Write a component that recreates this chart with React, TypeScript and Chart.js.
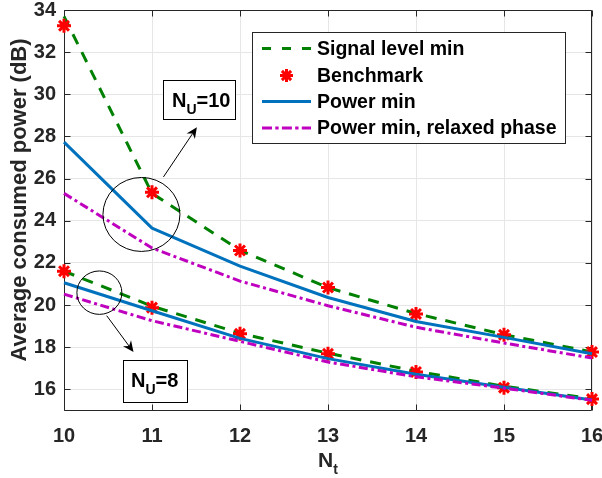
import React, { useEffect, useRef } from 'react';
import { Chart, registerables } from 'chart.js';

Chart.register(...registerables);

// ---------- data ----------
const NT = [10, 11, 12, 13, 14, 15, 16];

// N_U = 10
const SIGNAL_10 = [33.7, 25.3, 22.6, 20.83, 19.6, 18.6, 17.78];
const BENCH_10 = [33.25, 25.35, 22.59, 20.83, 19.58, 18.59, 17.77];
const POWER_10 = [27.73, 23.65, 21.85, 20.36, 19.22, 18.47, 17.69];
const RELAX_10 = [25.3, 22.71, 21.14, 19.97, 18.95, 18.2, 17.49];

// N_U = 8
const SIGNAL_8 = [21.61, 19.95, 18.66, 17.72, 16.86, 16.15, 15.56];
const BENCH_8 = [21.61, 19.88, 18.64, 17.69, 16.83, 16.08, 15.54];
const POWER_8 = [21.06, 19.73, 18.42, 17.46, 16.72, 16.1, 15.5];
const RELAX_8 = [20.52, 19.26, 18.28, 17.3, 16.6, 16.06, 15.48];

const X_TICKS = [10, 11, 12, 13, 14, 15, 16];
const Y_TICKS = [16, 18, 20, 22, 24, 26, 28, 30, 32, 34];

const LEGEND_LABELS = ['Signal level min', 'Benchmark', 'Power min', 'Power min, relaxed phase'];
const Y_TITLE = 'Average consumed power (dB)';

// ---------- styles ----------
const FONT = '"Liberation Sans", Arial, Helvetica, sans-serif';
const GREEN = '#008000';
const RED = '#ff0000';
const BLUE = '#0072bd';
const MAG = '#bf00bf';
const AXIS = '#262626';
const GRID = '#e6e6e6';
const GREEN_DASH = [11, 9];
const MAG_DASH = [9, 3.5, 3, 3.5];

const pts = (ys: number[]) => NT.map((x, i) => ({ x, y: ys[i] }));

function drawArrow(ctx: CanvasRenderingContext2D, x0: number, y0: number, x1: number, y1: number) {
  const ang = Math.atan2(y1 - y0, x1 - x0);
  const len = 11;
  const half = 5;
  const back = 7.5;
  ctx.beginPath();
  ctx.moveTo(x0, y0);
  ctx.lineTo(x1 - Math.cos(ang) * back, y1 - Math.sin(ang) * back);
  ctx.stroke();
  const bx = x1 - Math.cos(ang) * len;
  const by = y1 - Math.sin(ang) * len;
  const nx = -Math.sin(ang);
  const ny = Math.cos(ang);
  ctx.beginPath();
  ctx.moveTo(x1, y1);
  ctx.lineTo(bx + nx * half, by + ny * half);
  ctx.lineTo(x1 - Math.cos(ang) * back, y1 - Math.sin(ang) * back);
  ctx.lineTo(bx - nx * half, by - ny * half);
  ctx.closePath();
  ctx.fill();
}

function drawNuBox(ctx: CanvasRenderingContext2D, x: number, y: number, w: number, h: number, tx: number, base: number, num: string) {
  ctx.fillStyle = '#ffffff';
  ctx.fillRect(x, y, w, h);
  ctx.strokeStyle = '#000';
  ctx.lineWidth = 1;
  ctx.strokeRect(x + 0.5, y + 0.5, w, h);
  ctx.fillStyle = '#000';
  ctx.textAlign = 'left';
  ctx.textBaseline = 'alphabetic';
  ctx.font = `bold 20px ${FONT}`;
  ctx.fillText('N', tx, base);
  const wN = ctx.measureText('N').width;
  ctx.font = `bold 14px ${FONT}`;
  ctx.fillText('U', tx + wN, base + 7);
  const wU = ctx.measureText('U').width;
  ctx.font = `bold 20px ${FONT}`;
  ctx.fillText('=' + num, tx + wN + wU, base);
}

const decorPlugin = {
  id: 'decor',
  beforeDatasetsDraw(chart: any) {
    const { ctx, chartArea: a, scales } = chart;
    const L = Math.round(a.left) + 0.5;
    const R = Math.round(a.right) - 0.5;
    const T = Math.round(a.top) + 0.5;
    const B = Math.round(a.bottom) - 0.5;
    ctx.save();
    ctx.strokeStyle = AXIS;
    ctx.lineWidth = 1;
    ctx.beginPath();
    ctx.rect(L, T, R - L, B - T);
    ctx.stroke();
    ctx.beginPath();
    for (const v of X_TICKS) {
      const px = Math.round(scales.x.getPixelForValue(v)) + 0.5;
      ctx.moveTo(px, B);
      ctx.lineTo(px, B - 6);
      ctx.moveTo(px, T);
      ctx.lineTo(px, T + 6);
    }
    for (const v of Y_TICKS) {
      const py = Math.round(scales.y.getPixelForValue(v)) + 0.5;
      ctx.moveTo(L, py);
      ctx.lineTo(L + 6, py);
      ctx.moveTo(R, py);
      ctx.lineTo(R - 6, py);
    }
    ctx.stroke();
    ctx.restore();
  },
  afterDraw(chart: any) {
    const { ctx, scales } = chart;
    const sx = (v: number) => scales.x.getPixelForValue(v);
    const sy = (v: number) => scales.y.getPixelForValue(v);
    ctx.save();

    // axis titles
    ctx.fillStyle = AXIS;
    ctx.font = `bold 22px ${FONT}`;
    ctx.textAlign = 'center';
    ctx.textBaseline = 'middle';
    ctx.save();
    ctx.translate(20, 200);
    ctx.rotate(-Math.PI / 2);
    ctx.fillText(Y_TITLE, 0, 0);
    ctx.restore();

    const cx = (chart.chartArea.left + chart.chartArea.right) / 2;
    ctx.textAlign = 'left';
    ctx.textBaseline = 'alphabetic';
    ctx.font = `bold 21px ${FONT}`;
    const wN = ctx.measureText('N').width;
    ctx.font = `bold 14px ${FONT}`;
    const wt = ctx.measureText('t').width;
    const x0 = cx - (wN + wt) / 2;
    ctx.font = `bold 21px ${FONT}`;
    ctx.fillText('N', x0, 467);
    ctx.font = `bold 14px ${FONT}`;
    ctx.fillText('t', x0 + wN, 474);

    // legend
    const lx = 252, ly = 32, lw = 313, lh = 111;
    ctx.fillStyle = '#ffffff';
    ctx.fillRect(lx, ly, lw, lh);
    ctx.strokeStyle = AXIS;
    ctx.lineWidth = 1;
    ctx.strokeRect(lx + 0.5, ly + 0.5, lw, lh);
    const rows = [48.5, 75.5, 101.5, 128];
    const s0 = 262, s1 = 311, tx = 317;
    ctx.lineWidth = 3;
    ctx.lineCap = 'butt';
    // signal
    ctx.strokeStyle = GREEN;
    ctx.setLineDash([9, 11]);
    ctx.beginPath(); ctx.moveTo(s0, rows[0]); ctx.lineTo(s1, rows[0]); ctx.stroke();
    // benchmark star
    ctx.setLineDash([]);
    ctx.strokeStyle = RED;
    const mx = (s0 + s1) / 2, my = rows[1], r = 6.5;
    ctx.beginPath();
    for (let k = 0; k < 4; k++) {
      const ang = (k * Math.PI) / 4;
      ctx.moveTo(mx - Math.cos(ang) * r, my - Math.sin(ang) * r);
      ctx.lineTo(mx + Math.cos(ang) * r, my + Math.sin(ang) * r);
    }
    ctx.stroke();
    // power
    ctx.strokeStyle = BLUE;
    ctx.beginPath(); ctx.moveTo(s0, rows[2]); ctx.lineTo(s1, rows[2]); ctx.stroke();
    // relaxed
    ctx.strokeStyle = MAG;
    ctx.setLineDash([10, 3.3, 3.3, 3.3]);
    ctx.beginPath(); ctx.moveTo(s0, rows[3]); ctx.lineTo(s1, rows[3]); ctx.stroke();
    ctx.setLineDash([]);
    ctx.fillStyle = '#000';
    ctx.font = `bold 19.5px ${FONT}`;
    ctx.textAlign = 'left';
    ctx.textBaseline = 'middle';
    LEGEND_LABELS.forEach((t, i) => ctx.fillText(t, tx, rows[i] + 1));

    // annotations
    ctx.strokeStyle = '#000';
    ctx.fillStyle = '#000';
    ctx.lineWidth = 1;
    // N_U = 10 ellipse
    ctx.beginPath();
    ctx.ellipse(sx(10.88), sy(24.3), 38.5, 37, 0, 0, Math.PI * 2);
    ctx.stroke();
    drawArrow(ctx, sx(11.13), sy(26.08), sx(11.51), sy(28.44));
    // N_U = 8 ellipse
    ctx.beginPath();
    ctx.ellipse(sx(10.402), sy(20.59), 22.5, 21.7, 0, 0, Math.PI * 2);
    ctx.stroke();
    drawArrow(ctx, sx(10.485), sy(19.5), sx(10.79), sy(17.77));

    drawNuBox(ctx, 163, 80, 72, 39, 172, 107, '10');
    drawNuBox(ctx, 123, 360, 64, 42, 131, 387, '8');

    ctx.restore();
  },
};

export default function App() {
  const ref = useRef<HTMLCanvasElement | null>(null);

  useEffect(() => {
    if (!ref.current) return;
    const lineBase = {
      fill: false,
      tension: 0,
      borderWidth: 3,
      pointRadius: 0,
      borderCapStyle: 'butt' as const,
      borderJoinStyle: 'round' as const,
      clip: false as any,
    };
    const signal = (d: number[]) => ({ ...lineBase, data: pts(d), borderColor: GREEN, borderDash: GREEN_DASH, order: 3 });
    const bench = (d: number[]) => ({
      data: pts(d),
      showLine: false,
      pointStyle: 'star' as const,
      pointRadius: 7,
      pointBorderWidth: 3,
      pointBorderColor: RED,
      pointBackgroundColor: RED,
      borderColor: RED,
      backgroundColor: RED,
      clip: false as any,
      order: 2,
    });
    const power = (d: number[]) => ({ ...lineBase, data: pts(d), borderColor: BLUE, order: 1 });
    const relax = (d: number[]) => ({ ...lineBase, data: pts(d), borderColor: MAG, borderDash: MAG_DASH, order: 0 });

    const chart = new Chart(ref.current, {
      type: 'line',
      data: {
        datasets: [
          { label: LEGEND_LABELS[0], ...signal(SIGNAL_10) },
          { label: LEGEND_LABELS[0], ...signal(SIGNAL_8) },
          { label: LEGEND_LABELS[1], ...bench(BENCH_10) },
          { label: LEGEND_LABELS[1], ...bench(BENCH_8) },
          { label: LEGEND_LABELS[2], ...power(POWER_10) },
          { label: LEGEND_LABELS[2], ...power(POWER_8) },
          { label: LEGEND_LABELS[3], ...relax(RELAX_10) },
          { label: LEGEND_LABELS[3], ...relax(RELAX_8) },
        ] as any,
      },
      options: {
        animation: false,
        responsive: false,
        maintainAspectRatio: false,
        events: [],
        layout: { padding: { top: 7, right: 10, left: 0, bottom: 0 } },
        plugins: { legend: { display: false }, tooltip: { enabled: false } },
        scales: {
          x: {
            type: 'linear',
            min: 10,
            max: 16,
            afterBuildTicks: (s: any) => { s.ticks = X_TICKS.map((v) => ({ value: v })); },
            afterFit: (s: any) => { s.height = 67.5; s.paddingLeft = 0; s.paddingRight = 0; },
            ticks: { color: AXIS, font: { family: FONT, size: 20, weight: 'bold' }, padding: 14, maxRotation: 0, autoSkip: false },
            grid: { color: GRID, lineWidth: 1, drawTicks: false },
            border: { display: false },
          },
          y: {
            type: 'linear',
            min: 15,
            max: 34,
            afterBuildTicks: (s: any) => { s.ticks = Y_TICKS.map((v) => ({ value: v })); },
            afterFit: (s: any) => { s.width = 64; s.paddingTop = 0; s.paddingBottom = 0; },
            ticks: { color: AXIS, font: { family: FONT, size: 20, weight: 'bold' }, padding: 8, autoSkip: false },
            grid: { color: GRID, lineWidth: 1, drawTicks: false },
            border: { display: false },
          },
        },
      } as any,
      plugins: [decorPlugin],
    });
    return () => chart.destroy();
  }, []);

  return (
    <div style={{ position: 'fixed', left: 0, top: 0, width: 602, height: 478, background: '#fff' }}>
      <canvas ref={ref} width={602} height={478} style={{ display: 'block', width: 602, height: 478 }} />
    </div>
  );
}
